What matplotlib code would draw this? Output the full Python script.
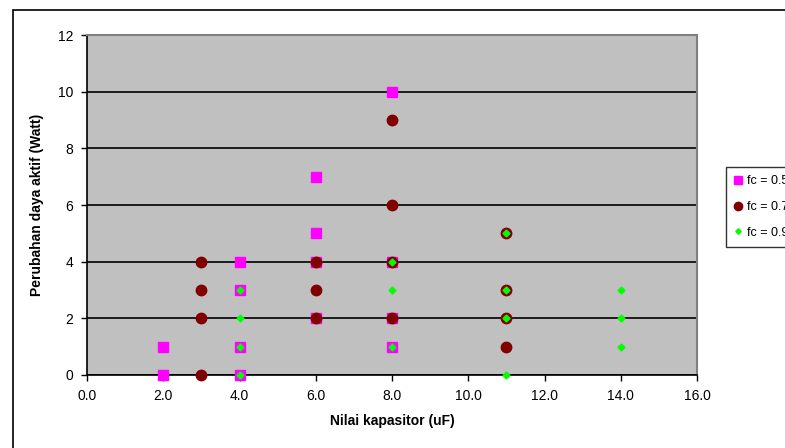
import matplotlib.pyplot as plt
from matplotlib.patches import Rectangle

plt.rcParams['font.family'] = ['Liberation Sans', 'DejaVu Sans']

labels = ["fc = 0.5", "fc = 0.7", "fc = 0.9"]

x_05 = [2, 2, 4, 4, 4, 4, 6, 6, 6, 6, 8, 8, 8, 8]
y_05 = [0, 1, 0, 1, 3, 4, 2, 4, 5, 7, 1, 2, 4, 10]

x_07 = [3, 3, 3, 3, 6, 6, 6, 8, 8, 8, 8, 11, 11, 11, 11]
y_07 = [0, 2, 3, 4, 2, 3, 4, 2, 4, 6, 9, 1, 2, 3, 5]

x_09 = [4, 4, 4, 4, 8, 8, 8, 11, 11, 11, 11, 14, 14, 14]
y_09 = [0, 1, 2, 3, 1, 3, 4, 0, 2, 3, 5, 1, 2, 3]

W, H = 785, 448
fig = plt.figure(figsize=(W / 100, H / 100), dpi=100)
ax = fig.add_axes([87 / W, 1 - 375 / H, (697 - 87) / W, (375 - 35) / H])
ax.set_facecolor("#C0C0C0")

# outer chart frame, runs off the right and bottom edge
fig.patches.append(Rectangle((13 / W, -0.1), 1.2, 1 - 10 / H + 0.1,
                             transform=fig.transFigure, fill=False,
                             edgecolor="black", linewidth=1.2, clip_on=False))

ax.plot(x_05, y_05, linestyle="none", marker="s", markersize=7,
        color="#FF00FF", label=labels[0], zorder=3, clip_on=False)
ax.plot(x_07, y_07, linestyle="none", marker="o", markersize=7.5,
        color="#800000", label=labels[1], zorder=4, clip_on=False)
ax.plot(x_09, y_09, linestyle="none", marker="D", markersize=3.5,
        color="#00FF00", label=labels[2], zorder=5, clip_on=False)

ax.set_xlim(0, 16)
ax.set_ylim(0, 12)
ax.set_xticks(range(0, 17, 2))
ax.set_xticklabels([f"{v:.1f}" for v in range(0, 17, 2)])
ax.set_yticks(range(0, 13, 2))

ax.yaxis.grid(True, color="black", linewidth=1.2)
ax.set_axisbelow(True)
ax.tick_params(labelsize=10, direction="out", length=4, width=1, pad=6)

for s in ["top", "right"]:
    ax.spines[s].set_color("#808080")
    ax.spines[s].set_linewidth(1.5)
for s in ["left", "bottom"]:
    ax.spines[s].set_color("black")
    ax.spines[s].set_linewidth(1.2)

ax.set_xlabel("Nilai kapasitor (uF)", fontsize=10, fontweight="bold", labelpad=8)
ax.set_ylabel("Perubahan daya aktif (Watt)", fontsize=10, fontweight="bold", labelpad=10)

# legend sits partly past the right edge, as in the original
leg = fig.legend(loc="upper left", bbox_to_anchor=(726 / W, 1 - 167 / H),
                 fontsize=9, frameon=True, fancybox=False, edgecolor="black",
                 handlelength=0.6, handletextpad=0.4, borderpad=0.65,
                 labelspacing=1.1, borderaxespad=0, markerscale=0.8)
leg.get_frame().set_linewidth(1)

fig.savefig("out.png", dpi=100)
